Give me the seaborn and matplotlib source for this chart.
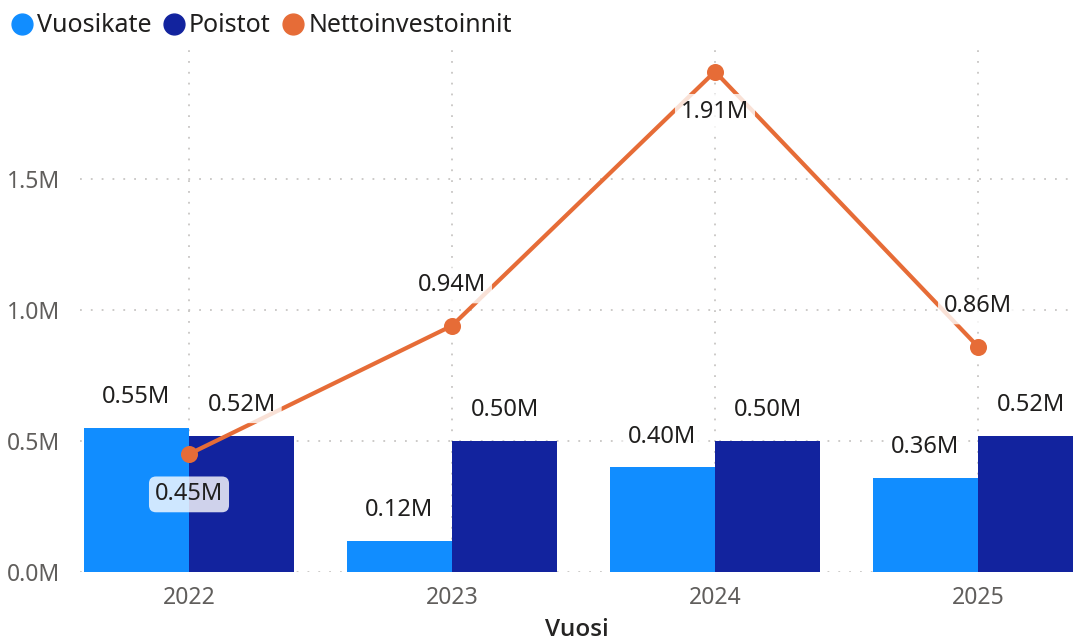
import matplotlib.pyplot as plt
import matplotlib.ticker as mticker
from matplotlib.lines import Line2D
import pandas as pd
import seaborn as sns

# data (millions)
years = ['2022', '2023', '2024', '2025']
vuosikate = [0.55, 0.12, 0.40, 0.36]
poistot = [0.52, 0.50, 0.50, 0.52]
nettoinvestoinnit = [0.45, 0.94, 1.91, 0.86]

c_vuosi = '#118DFF'
c_poisto = '#12239E'
c_netto = '#E66C37'
grid_col = '#C8C6C4'

sns.set_style('white')
plt.rcParams['font.family'] = ['Noto Sans', 'DejaVu Sans']

bars = pd.DataFrame({
    'Vuosi': years * 2,
    'sarja': ['Vuosikate'] * 4 + ['Poistot'] * 4,
    'arvo': [v * 1e6 for v in vuosikate + poistot],
})
line = pd.DataFrame({'Vuosi': years, 'arvo': [v * 1e6 for v in nettoinvestoinnit]})

fig = plt.figure(figsize=(10.73, 6.43), dpi=100)
ax = fig.add_axes([80 / 1073, 71 / 643, 993 / 1073, 524 / 643])

sns.barplot(data=bars, x='Vuosi', y='arvo', hue='sarja', order=years,
            hue_order=['Vuosikate', 'Poistot'], palette=[c_vuosi, c_poisto],
            width=0.8, gap=0, saturation=1, errorbar=None, legend=False, ax=ax,
            linewidth=0, edgecolor='none', zorder=2)
sns.pointplot(data=line, x='Vuosi', y='arvo', order=years, color=c_netto,
              markers='o', errorbar=None, ax=ax, linewidth=3, markersize=10, zorder=3)

box = dict(boxstyle='round,pad=0.25,rounding_size=0.3', fc='white', ec='none', alpha=0.8)

# bar labels
for i, (a, b) in enumerate(zip(vuosikate, poistot)):
    for off, v in ((-0.2, a), (0.2, b)):
        ax.annotate(f'{v:.2f}M', (i + off, v * 1e6), xytext=(0, 22), textcoords='offset points',
                    ha='center', va='center', fontsize=17, color='#201F1E', bbox=box, zorder=5)

# line labels (above or below the point)
line_pos = [-1, 1, -1, 1]
for i, (v, p) in enumerate(zip(nettoinvestoinnit, line_pos)):
    ax.annotate(f'{v:.2f}M', (i, v * 1e6), xytext=(0, 29 * p), textcoords='offset points',
                ha='center', va='center', fontsize=17, color='#201F1E', bbox=box, zorder=6)

ax.set_ylim(0, 2.0e6)
ax.set_xlim((80 - 189) / 263, 3 + (1073 - 978) / 263)
ax.set_yticks([0, 0.5e6, 1.0e6, 1.5e6])
ax.yaxis.set_major_formatter(mticker.FuncFormatter(lambda v, _: f'{v / 1e6:.1f}M'))
ax.grid(True, axis='both', color=grid_col, linestyle=(0, (1, 5)), linewidth=1.3, zorder=0)
ax.set_axisbelow(True)
for s in ax.spines.values():
    s.set_visible(False)
ax.tick_params(axis='both', length=0, labelsize=16.5, labelcolor='#605E5C')
ax.tick_params(axis='x', pad=10)
ax.tick_params(axis='y', pad=14)
ax.set_ylabel('')
ax.set_xlabel('Vuosi', fontsize=17.5, fontweight='semibold', color='#252423', labelpad=6,
              family=['Open Sans', 'DejaVu Sans'])

handles = [Line2D([], [], marker='o', ls='', color=c, markersize=15)
           for c in (c_vuosi, c_poisto, c_netto)]
fig.legend(handles, ['Vuosikate', 'Poistot', 'Nettoinvestoinnit'], loc='upper left',
           bbox_to_anchor=(-0.012, 1.014), ncol=3, frameon=False, fontsize=18,
           handletextpad=0.1, columnspacing=0.4, handlelength=1.0, labelcolor='#201F1E')

fig.savefig('out.png', dpi=100)
